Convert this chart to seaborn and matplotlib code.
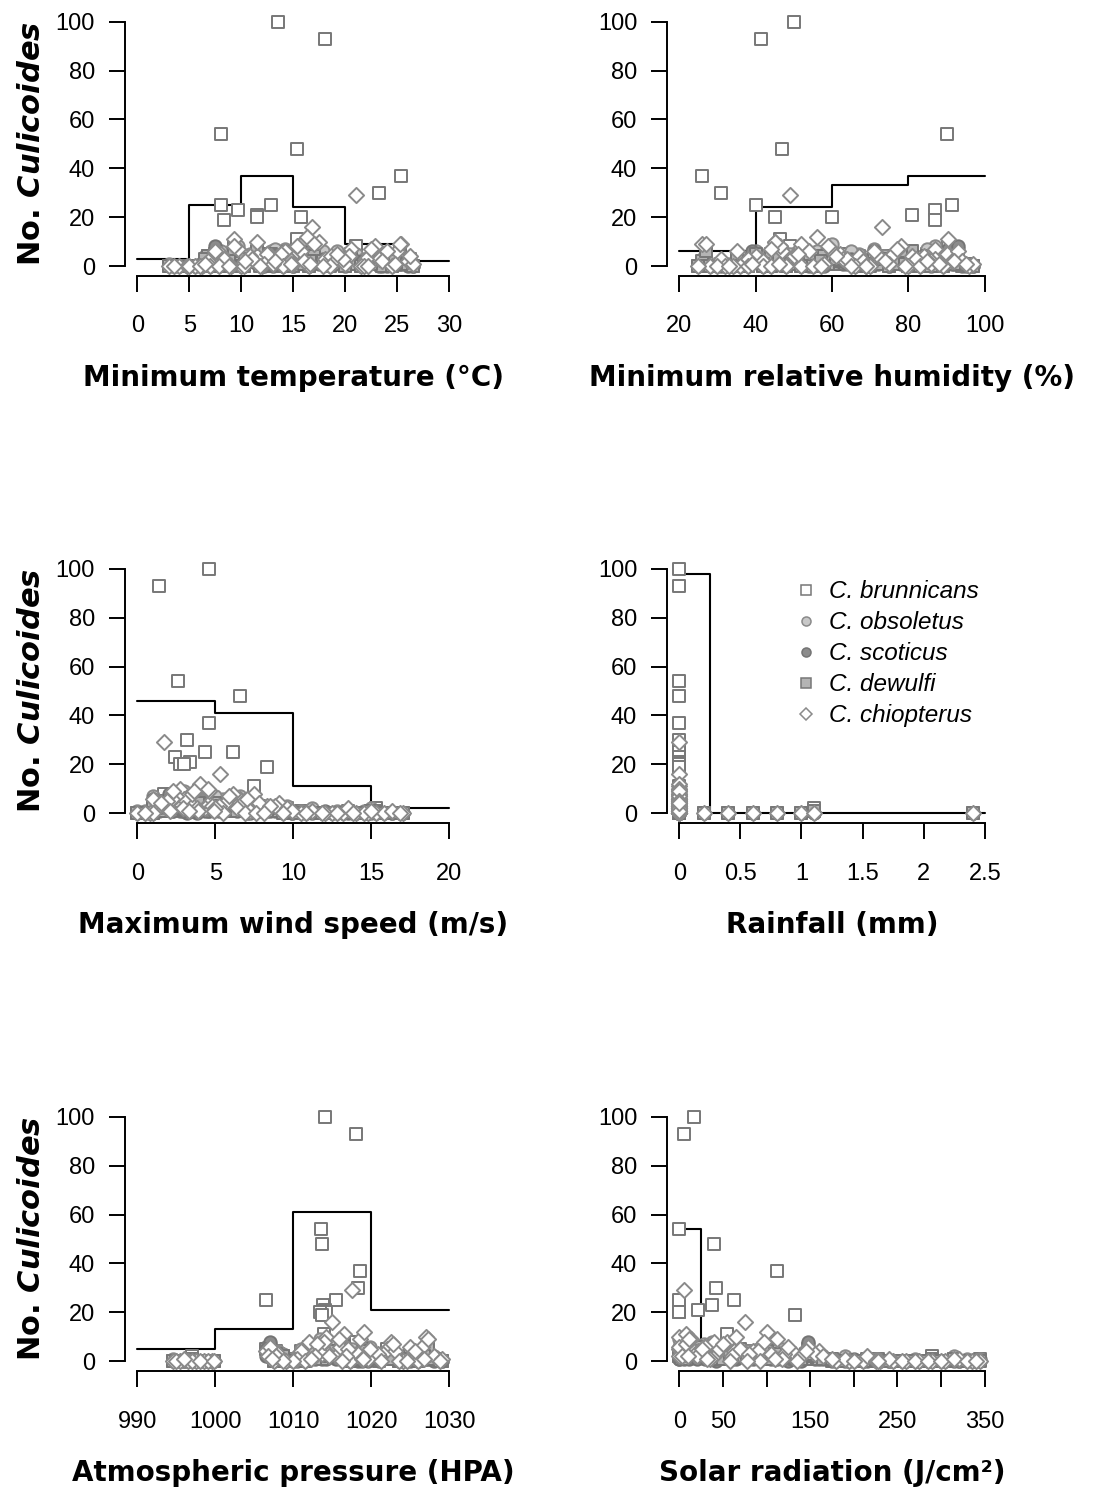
import matplotlib
matplotlib.use('Agg')
import matplotlib.pyplot as plt
from matplotlib.lines import Line2D
import pandas as pd
import seaborn as sns

# one entry per trapping night: weather covariates
min_temp = [13.5, 18.0, 8.0, 15.3, 25.3, 23.2, 12.8, 8.0, 9.7, 11.5,
            11.5, 15.7, 8.3, 15.3, 21.0, 16.8, 9.3, 16.3, 17.5, 22.8,
            9.3, 20.5, 7.5, 12.5, 18.6, 20.3, 14.2, 19.5, 25.0, 10.8,
            17.0, 13.8, 6.8, 22.0, 24.0, 19.0, 11.0, 26.0, 3.0, 4.0,
            4.8, 5.5, 6.2, 7.0, 10.0, 12.0, 14.0, 15.0, 16.5, 18.5,
            20.0, 21.5, 23.5, 24.5, 26.5, 5.0, 6.0, 9.0, 10.2, 12.2,
            19.8, 22.5, 25.2, 16.0, 13.0, 7.8, 3.5, 11.8, 14.8, 17.8,
            10.3, 21.8, 24.8, 19.2, 8.8, 13.2, 16.6, 22.2, 6.5, 26.2]
min_humidity = [50, 41.5, 90, 47, 26, 31, 40, 91.5, 87, 81,
                45, 60, 87, 46.5, 49, 73, 90.5, 56, 45, 59,
                78, 44, 93, 62, 72, 84, 71, 63, 35, 67,
                52, 76, 86, 38, 54, 68, 82, 42, 36, 28,
                32, 38, 42, 52, 55, 66, 69, 75, 80, 83,
                86, 89, 94, 96, 97, 25, 30, 34, 48, 58,
                64, 77, 27, 92, 95, 33, 44, 70, 58, 65,
                74, 79, 88, 51, 57, 85, 39, 69, 46, 61]
max_wind = [4.6, 1.4, 2.6, 6.6, 4.6, 3.2, 6.1, 4.3, 2.4, 3.4,
            2.7, 3.0, 8.3, 7.5, 1.7, 5.3, 4.0, 4.0, 4.5, 6.1,
            3.5, 2.5, 2.0, 1.2, 7.8, 9.1, 1.0, 8.8, 2.2, 5.6,
            3.6, 6.8, 1.8, 5.2, 7.0, 9.6, 4.8, 3.8, 0.0, 0.8,
            1.0, 12.5, 13.2, 14.0, 14.8, 15.3, 15.8, 16.3, 17.0, 10.5,
            11.2, 12.0, 13.5, 14.5, 9.9, 11.8, 12.8, 10.8, 13.8, 15.0,
            8.5, 5.9, 2.3, 6.4, 7.2, 0.5, 16.8, 9.3, 3.9, 5.5,
            2.9, 6.9, 3.3, 1.9, 7.6, 5.0, 2.1, 8.1, 4.9, 1.5]
rainfall = [0, 0, 0, 0, 0, 0, 0, 0, 0, 0,
            0, 0, 0, 0, 0, 0, 0, 0, 0, 0,
            0, 0, 0, 0, 0, 0, 0, 0, 0, 0,
            0, 0, 0, 0, 0, 0, 0, 0, 0, 0,
            0.2, 0.4, 0.6, 0.8, 1.0, 1.1, 2.4, 0, 0, 0,
            0, 0, 0, 0, 0, 0, 0, 0, 0, 0,
            0, 0, 0, 0, 0, 0, 0, 0, 0, 0,
            0, 0, 0, 0, 0, 0, 0, 0, 0, 0]
pressure = [1014.0, 1018.0, 1013.5, 1013.7, 1018.5, 1018.3, 1006.5, 1015.5, 1013.8, 1014.0,
            1014.2, 1013.4, 1013.6, 1013.9, 1017.5, 1015.0, 1016.5, 1019.0, 1027.0, 1022.5,
            1012.0, 1013.0, 1007.0, 1022.0, 1020.0, 1023.0, 1016.0, 1020.5, 1026.5, 1011.0,
            1015.8, 1017.0, 1006.8, 1021.5, 1025.0, 1012.8, 1008.0, 1028.0, 994.5, 995.5,
            996.5, 997.5, 998.5, 999.5, 995.0, 997.0, 999.0, 996.0, 998.0, 1009.0,
            1010.5, 1011.5, 1021.0, 1024.0, 1029.0, 1026.0, 1028.8, 1023.5, 1017.2, 1019.5,
            1020.8, 1022.8, 1027.2, 1016.8, 1018.8, 1007.5, 999.8, 1010.0, 1012.2, 1016.2,
            1007.8, 1024.5, 1026.8, 1019.8, 1008.6, 1014.6, 1018.9, 1021.2, 1007.2, 1025.6]
solar = [17, 6, 0, 40, 112, 42, 63, 0, 38, 22,
         0, 0, 133, 55, 6, 75, 8, 100, 65, 97,
         40, 8, 148, 70, 85, 160, 28, 120, 30, 90,
         14, 45, 3, 105, 125, 60, 80, 140, 180, 195,
         210, 230, 245, 260, 275, 290, 305, 320, 335, 345,
         190, 200, 215, 225, 240, 255, 270, 285, 300, 315,
         155, 50, 11, 165, 175, 330, 340, 228, 35, 58,
         20, 92, 118, 26, 78, 10, 32, 135, 110, 145]

# catch per species on the same nights
brunnicans = [100, 93, 54, 48, 37, 30, 25, 25, 23, 21,
              20, 20, 19, 11, 8, 4, 8, 4, 3, 2,
              2, 3, 5, 5, 3, 1, 3, 2, 2, 4,
              6, 2, 4, 1, 1, 2, 3, 1, 0, 0,
              0, 0, 0, 0, 0, 2, 0, 0, 0, 1,
              0, 0, 1, 0, 0, 0, 0, 0, 0, 1,
              2, 2, 2, 1, 0, 0, 0, 1, 3, 2,
              4, 1, 2, 3, 2, 5, 3, 1, 2, 1]
obsoletus = [5, 4, 6, 7, 3, 2, 6, 4, 8, 5,
             3, 9, 2, 6, 5, 4, 3, 6, 5, 4,
             3, 4, 7, 3, 2, 2, 7, 3, 4, 5,
             8, 4, 3, 3, 2, 3, 4, 2, 1, 0,
             0, 0, 0, 0, 0, 0, 0, 0, 0, 1,
             2, 0, 1, 1, 0, 0, 1, 0, 0, 2,
             3, 4, 3, 2, 1, 1, 0, 1, 5, 6,
             4, 3, 5, 6, 3, 7, 4, 2, 4, 3]
scoticus = [2, 1, 3, 2, 1, 0, 2, 1, 3, 2,
            1, 4, 1, 3, 2, 2, 7, 2, 1, 2,
            1, 2, 8, 2, 1, 1, 6, 1, 1, 2,
            3, 2, 2, 1, 0, 1, 2, 0, 0, 0,
            0, 0, 0, 0, 0, 0, 0, 0, 0, 0,
            0, 1, 0, 0, 0, 0, 0, 0, 0, 0,
            1, 2, 1, 1, 0, 0, 0, 0, 2, 3,
            1, 2, 1, 2, 1, 3, 6, 1, 1, 2]
dewulfi = [3, 2, 2, 4, 2, 1, 5, 3, 2, 6,
           2, 3, 1, 2, 1, 3, 2, 4, 2, 1,
           6, 5, 3, 2, 1, 1, 3, 2, 3, 2,
           4, 1, 4, 1, 2, 1, 2, 1, 0, 0,
           0, 0, 0, 0, 0, 1, 0, 0, 0, 0,
           0, 0, 0, 0, 0, 0, 0, 0, 0, 1,
           2, 1, 6, 1, 1, 0, 0, 0, 4, 2,
           3, 1, 2, 3, 2, 4, 2, 1, 3, 3]
chiopterus = [4, 3, 5, 6, 9, 3, 4, 2, 7, 4,
              10, 6, 3, 8, 29, 16, 11, 12, 10, 8,
              8, 7, 6, 5, 4, 4, 6, 3, 6, 4,
              9, 5, 2, 3, 6, 2, 3, 2, 0, 0,
              0, 0, 0, 0, 0, 0, 0, 1, 0, 0,
              1, 0, 2, 0, 1, 0, 0, 0, 0, 1,
              3, 7, 9, 2, 1, 0, 0, 0, 1, 0,
              2, 0, 1, 5, 0, 2, 1, 0, 1, 4]

# class means (the step lines)
temp_edges = [0, 5, 10, 15, 20, 25, 30]
temp_means = [3, 25, 37, 24, 9, 2]
hum_edges = [20, 40, 60, 80, 100]
hum_means = [6, 24, 33, 37]
wind_edges = [0, 5, 10, 15, 20]
wind_means = [46, 41, 11, 2]
rain_edges = [0, 0.25, 2.5]
rain_means = [98, 0]
pres_edges = [990, 1000, 1010, 1020, 1030]
pres_means = [5, 13, 61, 21]
solar_edges = [0, 25, 50, 75, 100, 125, 150, 175, 200, 225, 250, 275, 300, 325, 350]
solar_means = [54, 6, 6, 5, 5, 3, 2, 2, 1, 1, 1, 1, 1, 1]

nights = pd.DataFrame({
    'min_temp': min_temp, 'min_humidity': min_humidity, 'max_wind': max_wind,
    'rainfall': rainfall, 'pressure': pressure, 'solar': solar,
    'brunnicans': brunnicans, 'obsoletus': obsoletus, 'scoticus': scoticus,
    'dewulfi': dewulfi, 'chiopterus': chiopterus,
})

# species: marker, face colour, edge colour, marker size
species = [
    ('brunnicans', 's', 'white', '#777777', 85),
    ('obsoletus', 'o', '#c8c8c8', '#8a8a8a', 80),
    ('scoticus', 'o', '#8c8c8c', '#747474', 80),
    ('dewulfi', 's', '#b4b4b4', '#777777', 85),
    ('chiopterus', 'D', 'white', '#8a8a8a', 60),
]

panels = [
    ('min_temp', 'Minimum temperature (°C)', [0, 5, 10, 15, 20, 25, 30], None, temp_edges, temp_means),
    ('min_humidity', 'Minimum relative humidity (%)', [20, 40, 60, 80, 100], None, hum_edges, hum_means),
    ('max_wind', 'Maximum wind speed (m/s)', [0, 5, 10, 15, 20], None, wind_edges, wind_means),
    ('rainfall', 'Rainfall (mm)', [0, 0.5, 1, 1.5, 2, 2.5], ['0', '0.5', '1', '1.5', '2', '2.5'], rain_edges, rain_means),
    ('pressure', 'Atmospheric pressure (HPA)', [990, 1000, 1010, 1020, 1030], None, pres_edges, pres_means),
    ('solar', 'Solar radiation (J/cm²)', [0, 50, 100, 150, 200, 250, 300, 350],
     ['0', '50', '', '150', '', '250', '', '350'], solar_edges, solar_means),
]

sns.set_style('ticks')
plt.rcParams['font.family'] = ['Liberation Sans', 'DejaVu Sans']
plt.rcParams['mathtext.fontset'] = 'custom'
plt.rcParams['mathtext.it'] = 'DejaVu Sans:italic:bold'
for key in ['text.color', 'axes.labelcolor', 'xtick.color', 'ytick.color', 'axes.edgecolor']:
    plt.rcParams[key] = 'black'

fig = plt.figure(figsize=(11.08, 14.99), dpi=100)

lefts = [0.1128, 0.602]
widths = [0.3041, 0.2978]
bottoms = [0.816, 0.451, 0.0854]
height = 0.1761

for i, (col, label, ticks, ticklabels, edges, means) in enumerate(panels):
    row, c = divmod(i, 2)
    ax = fig.add_axes([lefts[c], bottoms[row], widths[c], height])

    # step line of class means, points go on top of it
    sns.lineplot(x=edges, y=means + [means[-1]], drawstyle='steps-post', color='black',
                 linewidth=1.5, estimator=None, ax=ax, zorder=2)
    for name, marker, face, edge, size in species:
        sns.scatterplot(data=nights, x=col, y=name, marker=marker, s=size, color=face,
                        edgecolor=edge, linewidth=1.4, ax=ax, zorder=3)

    lo, hi = ticks[0], ticks[-1]
    ax.set_xlim(lo - 0.04 * (hi - lo), hi + 0.04 * (hi - lo))
    ax.set_ylim(-4, 104)
    ax.set_xticks(ticks)
    if ticklabels is not None:
        ax.set_xticklabels(ticklabels)
    ax.set_yticks([0, 20, 40, 60, 80, 100])
    ax.tick_params(bottom=True, left=True, direction='out', length=11.5, width=1.4,
                   labelsize=17, color='black', labelcolor='black')
    ax.tick_params(axis='x', pad=17)
    ax.tick_params(axis='y', pad=10)
    sns.despine(ax=ax, trim=True)
    for side in ['left', 'bottom']:
        ax.spines[side].set_linewidth(1.4)
        ax.spines[side].set_color('black')

    ax.set_xlabel(label, fontsize=20, fontweight='bold', family='DejaVu Sans', labelpad=19)
    if c == 0:
        ax.set_ylabel('No. $Culicoides$', fontsize=22, fontweight='bold',
                      family='DejaVu Sans', labelpad=7)
    else:
        ax.set_ylabel('')

    if col == 'rainfall':
        handles = [Line2D([], [], marker=m, linestyle='none', markersize=6.5 if m != 'D' else 6,
                          markerfacecolor=f, markeredgecolor=e, markeredgewidth=1.1,
                          label='C. ' + n)
                   for n, m, f, e, s in species]
        ax.legend(handles=handles, loc='upper left', bbox_to_anchor=(0.385, 0.92),
                  frameon=False, prop={'family': 'Liberation Sans', 'style': 'italic', 'size': 17.5},
                  handlelength=1.0, handletextpad=0.45, labelspacing=0.33,
                  borderpad=0, borderaxespad=0)

fig.savefig('out.png', dpi=100)
